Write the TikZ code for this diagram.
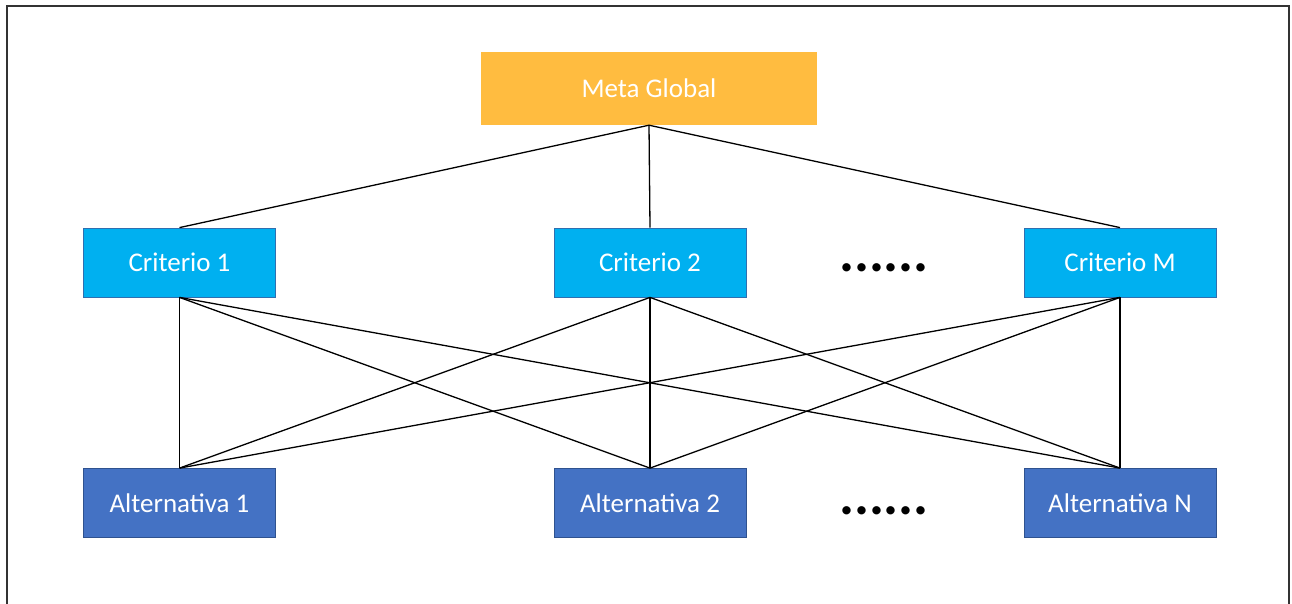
\documentclass[tikz,border=0pt]{standalone}
\usepackage{fontspec}
\setmainfont{Carlito}
\definecolor{metaC}{HTML}{FFBC40}
\definecolor{critC}{HTML}{00B0F0}
\definecolor{critB}{HTML}{2F6FB0}
\definecolor{altC}{HTML}{4472C4}
\definecolor{altB}{HTML}{2F528F}
\begin{document}
\begin{tikzpicture}[x=1pt,y=-1pt,
  box/.style={minimum width=192pt,minimum height=69pt,inner sep=0pt,text=white,font=\fontsize{27}{30}\selectfont},
  metabox/.style={box,fill=metaC,minimum width=336pt,minimum height=73pt},
  critbox/.style={box,fill=critC,draw=critB,line width=0.8pt},
  altbox/.style={box,fill=altC,draw=altB,line width=0.8pt},
  link/.style={line width=1.3pt,black},
  dotsnode/.style={font=\bfseries\fontsize{56}{56}\selectfont,inner sep=0pt}]
\useasboundingbox (0,0) rectangle (1292,604);
\draw[line width=1.6pt,black!80] (7,604) -- (7,6) -- (1289,6) -- (1289,604);
\node[metabox] (meta) at (649,88.5) {Meta Global};
\node[critbox] (c1) at (179.5,262.5) {Criterio 1};
\node[critbox] (c2) at (650,262.5) {Criterio 2};
\node[critbox] (cm) at (1120,262.5) {Criterio M};
\node[altbox] (a1) at (179.5,503) {Alternativa 1};
\node[altbox] (a2) at (650,503) {Alternativa 2};
\node[altbox] (an) at (1120,503) {Alternativa N};
\node[dotsnode,anchor=base] (d1) at (884,271) {......};
\node[dotsnode,anchor=base] (d2) at (884,514) {......};
\foreach \c in {c1,c2,cm}{
  \draw[link] (meta.south) -- (\c.north);
  \foreach \a in {a1,a2,an}{
    \draw[link] (\c.south) -- (\a.north);
  }
}
\end{tikzpicture}
\end{document}
